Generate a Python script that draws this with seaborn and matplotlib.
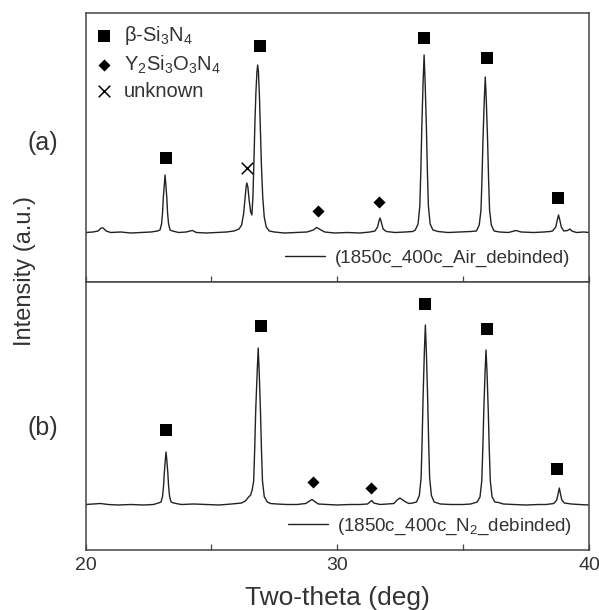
import matplotlib
matplotlib.use("Agg")
import matplotlib.pyplot as plt
import pandas as pd
import seaborn as sns

# ---------------- data ----------------
two_theta_a = [20.00, 20.30, 20.50, 20.62, 20.70, 20.82, 21.00, 21.40, 21.80, 22.20, 22.60,
               22.86, 22.96, 23.02, 23.06, 23.09, 23.13, 23.16, 23.19, 23.23, 23.26, 23.30, 23.36, 23.46,
               23.70, 24.00, 24.15, 24.25, 24.40, 24.80, 25.20, 25.60, 25.90, 26.10, 26.20, 26.28,
               26.34, 26.38, 26.41, 26.45, 26.50, 26.56, 26.61, 26.65, 26.69, 26.73, 26.77, 26.81,
               26.84, 26.87, 26.91, 26.95, 26.99, 27.04, 27.10, 27.18, 27.30, 27.50, 27.90, 28.40,
               28.80, 29.05, 29.18, 29.32, 29.50, 29.90, 30.40, 30.90, 31.30, 31.50, 31.60, 31.66,
               31.70, 31.75, 31.82, 31.95, 32.30, 32.70, 33.00,
               33.10, 33.21, 33.28, 33.32, 33.36, 33.41, 33.45, 33.49, 33.54, 33.58, 33.62, 33.69, 33.80,
               34.00, 34.40, 34.90, 35.30,
               35.53, 35.64, 35.71, 35.75, 35.79, 35.84, 35.88, 35.92, 35.97, 36.01, 36.05, 36.12, 36.23,
               36.45, 36.80, 37.10, 37.30, 37.80, 38.20, 38.45, 38.55, 38.68, 38.74, 38.79, 38.84,
               38.90, 39.00, 39.15, 39.24, 39.32, 39.50, 39.80, 40.00]
intensity_a = [49.5, 50, 51, 54, 54, 51, 49.5, 50, 49, 49.5, 50,
               51, 52, 58, 69, 84, 98, 107, 98, 84, 69, 58, 52, 51,
               49.5, 50, 51, 51.5, 49.5, 49, 49.5, 50, 51, 53, 57, 68,
               84, 95, 99, 95, 82, 70, 67, 85, 120, 160, 190, 210,
               217, 210, 185, 150, 115, 85, 65, 55, 51, 50, 49, 49.5,
               50, 52, 54.5, 52.5, 50, 49, 49.5, 49, 50, 51, 55, 61,
               64, 60, 53, 50.5, 49.5, 50, 50.5,
               52, 58, 76, 111, 156, 200, 227, 200, 156, 111, 76, 58, 52,
               50.5, 49.5, 50, 50.5,
               51, 57, 72, 104, 143, 182, 205, 182, 143, 104, 72, 57, 51,
               50, 49.5, 51.5, 50, 49.5, 50, 50.5, 51, 55, 62, 67, 62,
               55, 51, 51.5, 53, 51, 49.5, 50, 49.5]

two_theta_b = [20.00, 20.30, 20.60, 20.90, 21.30, 21.80, 22.30, 22.70,
               22.90, 23.00, 23.06, 23.10, 23.13, 23.17, 23.20, 23.23, 23.27, 23.30, 23.34, 23.40, 23.50,
               23.80, 24.30, 24.80, 25.30, 25.80,
               26.20, 26.35, 26.48, 26.56, 26.62, 26.68, 26.72, 26.76, 26.82, 26.86, 26.90, 26.95,
               26.99, 27.03, 27.10, 27.22, 27.35,
               27.60, 28.00, 28.40, 28.75, 28.90, 29.00, 29.10, 29.25,
               29.60, 30.00, 30.50, 30.90, 31.20, 31.32, 31.37, 31.45, 31.70, 32.00,
               32.25, 32.38, 32.49, 32.60, 32.72, 32.85, 33.00,
               33.15, 33.26, 33.33, 33.37, 33.41, 33.46, 33.50, 33.54, 33.59, 33.63, 33.67, 33.74, 33.85,
               34.10, 34.50, 35.00, 35.30,
               35.56, 35.67, 35.74, 35.78, 35.82, 35.87, 35.91, 35.95, 36.00, 36.04, 36.08, 36.15, 36.26,
               36.40, 36.60, 37.00, 37.50, 38.00, 38.30,
               38.60, 38.72, 38.78, 38.82, 38.86, 38.92, 39.02, 39.30, 39.60, 40.00]
intensity_b = [45.5, 46, 46.5, 45.5, 45, 45.5, 45, 45.5,
               47, 48, 53.5, 64, 77, 90, 98, 90, 77, 64, 53.5, 48, 47,
               45.5, 46, 45.5, 45, 46,
               47, 49, 53, 55, 60, 69, 100, 139, 178, 202, 178, 139,
               100, 69, 53.5, 48, 46.5,
               46, 45.5, 45.5, 46.5, 49, 50.5, 48.5, 46,
               45.5, 45, 45.5, 45.5, 46, 48.5, 49.5, 47, 45.5, 46,
               46.5, 50, 52, 50, 48, 46.5, 47,
               48, 54.5, 72, 108, 153, 198, 225, 198, 153, 108, 72, 54.5, 48,
               46, 45.5, 45.5, 46,
               48, 53, 69, 99.5, 138, 177, 200, 177, 138, 99.5, 69, 53, 48,
               47.5, 46, 45.5, 45, 45.5, 45.5,
               46.5, 50, 57, 62, 57, 50, 47, 46, 45.5, 45]

# peak markers
si3n4_a_x = [23.18, 26.92, 33.43, 35.95, 38.77]
si3n4_a_y = [124, 236, 244, 224, 84]
yson_a_x = [29.23, 31.66]
yson_a_y = [71, 80]
unknown_a_x = [26.40]
unknown_a_y = [114]

si3n4_b_x = [23.18, 26.97, 33.48, 35.94, 38.72]
si3n4_b_y = [120.5, 224, 246, 221, 81.5]
yson_b_x = [29.02, 31.33]
yson_b_y = [68, 62]

label_si3n4 = r"β-Si$_3$N$_4$"
label_yson = r"Y$_2$Si$_3$O$_3$N$_4$"
label_unknown = "unknown"
sample_a = "(1850c_400c_Air_debinded)"
sample_b = r"(1850c_400c_N$_2$_debinded)"
panel_labels = ["(a)", "(b)"]
x_ticks = [20, 25, 30, 35, 40]
x_tick_labels = ["20", "", "30", "", "40"]
x_label = "Two-theta (deg)"
y_label = "Intensity (a.u.)"

# ---------------- style ----------------
sns.set_style("white")
plt.rcParams["font.family"] = ["Liberation Sans", "DejaVu Sans"]
plt.rcParams["mathtext.fontset"] = "custom"
plt.rcParams["mathtext.rm"] = "Liberation Sans"
plt.rcParams["mathtext.it"] = "Liberation Sans:italic"
plt.rcParams["mathtext.bf"] = "Liberation Sans:bold"

LINE_C = "#222222"
SPINE_C = "#444444"
TXT_C = "#333333"

fig = plt.figure(figsize=(5.99, 6.10), dpi=100)
L, W = 85.5 / 599, (589 - 85.5) / 599
ax_a = fig.add_axes([L, 1 - 282 / 610, W, 269 / 610])
ax_b = fig.add_axes([L, 1 - 550 / 610, W, 268 / 610])

df_a = pd.DataFrame({"tt": two_theta_a, "I": intensity_a})
df_b = pd.DataFrame({"tt": two_theta_b, "I": intensity_b})

sq_s, dm_s, x_s = 74, 38, 70

for ax, df, sample, ylim in [(ax_a, df_a, sample_a, 269), (ax_b, df_b, sample_b, 268)]:
    sns.lineplot(data=df, x="tt", y="I", ax=ax, color=LINE_C, linewidth=1.0,
                 estimator=None, sort=False, label=sample)
    ax.set_xlim(20, 40)
    ax.set_ylim(0, ylim)
    ax.set_yticks([])
    ax.set_xlabel("")
    ax.set_ylabel("")
    ax.set_xticks(x_ticks)
    ax.tick_params(axis="x", direction="in", length=4.5, width=0.9, color=SPINE_C,
                   bottom=True, top=False, labelsize=14, labelcolor=TXT_C, pad=5)
    for sp in ax.spines.values():
        sp.set_color(SPINE_C)
        sp.set_linewidth(1.1)

# markers
sns.scatterplot(x=si3n4_a_x, y=si3n4_a_y, ax=ax_a, marker="s", s=sq_s, color="black",
                linewidth=0, label=label_si3n4)
sns.scatterplot(x=yson_a_x, y=yson_a_y, ax=ax_a, marker="D", s=dm_s, color="black",
                linewidth=0, label=label_yson)
sns.scatterplot(x=unknown_a_x, y=unknown_a_y, ax=ax_a, marker="x", s=x_s, color="black",
                linewidth=1.1, label=label_unknown)
sns.scatterplot(x=si3n4_b_x, y=si3n4_b_y, ax=ax_b, marker="s", s=sq_s, color="black",
                linewidth=0, legend=False)
sns.scatterplot(x=yson_b_x, y=yson_b_y, ax=ax_b, marker="D", s=dm_s, color="black",
                linewidth=0, legend=False)

ax_a.set_xticklabels([])
ax_b.set_xticklabels(x_tick_labels)
ax_b.set_xlabel(x_label, fontsize=19, color=TXT_C, labelpad=9)

# legends
h, l = ax_a.get_legend_handles_labels()
idx = {lab: i for i, lab in enumerate(l)}
leg_m = ax_a.legend([h[idx[label_si3n4]], h[idx[label_yson]], h[idx[label_unknown]]],
                    [label_si3n4, label_yson, label_unknown],
                    loc="upper left", bbox_to_anchor=(0.018, 0.958), frameon=False,
                    fontsize=14.5, handlelength=0.9, handletextpad=0.55, borderpad=0,
                    borderaxespad=0, labelspacing=0.3, labelcolor=TXT_C)
ax_a.add_artist(leg_m)
ax_a.legend([h[idx[sample_a]]], [sample_a], loc="center right", bbox_to_anchor=(0.962, 0.089),
            frameon=False, fontsize=13.5, handlelength=2.15, handletextpad=0.48,
            borderpad=0, borderaxespad=0, labelcolor=TXT_C)
hb, lb = ax_b.get_legend_handles_labels()
ax_b.legend(hb, lb, loc="center right", bbox_to_anchor=(0.966, 0.086),
            frameon=False, fontsize=13.5, handlelength=2.15, handletextpad=0.48,
            borderpad=0, borderaxespad=0, labelcolor=TXT_C)

fig.text(43 / 599, 1 - 143 / 610, panel_labels[0], fontsize=18, ha="center", va="center", color=TXT_C)
fig.text(43 / 599, 1 - 428 / 610, panel_labels[1], fontsize=18, ha="center", va="center", color=TXT_C)
fig.text(25 / 599, 1 - 271 / 610, y_label, fontsize=17, rotation=90, ha="center", va="center",
         color=TXT_C)

fig.savefig("out.png", dpi=100, facecolor="white")
